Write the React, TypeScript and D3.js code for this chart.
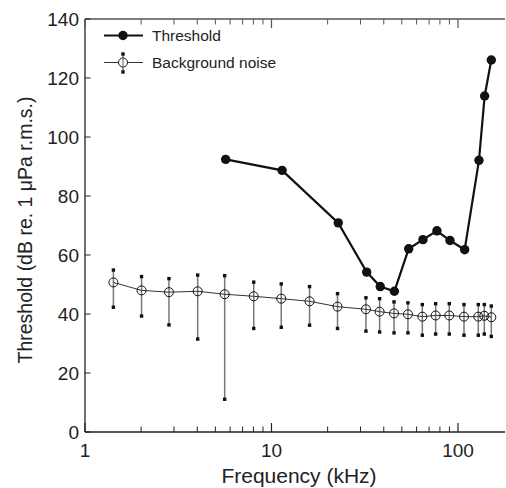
import React from "react";
import * as d3 from "d3";

const thresholdFreq = [5.68, 11.4, 22.8, 32.4, 38.3, 45.6, 54.4, 64.9, 77.1, 90.6, 108.6, 129.6, 139, 150.9];
const thresholdDb = [92.4, 88.7, 70.9, 54.2, 49.3, 47.7, 62.1, 65.2, 68.2, 64.9, 61.8, 92.1, 113.9, 126.1];

const noiseFreq = [1.42, 2.01, 2.82, 4.02, 5.61, 8.03, 11.28, 16.0, 22.6, 32.1, 38.0, 45.4, 53.9, 64.4, 75.9, 89.8, 107.7, 128.5, 138.4, 150.9];
const noiseDb = [50.7, 48.0, 47.4, 47.7, 46.7, 46.0, 45.2, 44.3, 42.5, 41.6, 40.8, 40.2, 39.9, 39.1, 39.5, 39.5, 39.1, 39.1, 39.4, 38.9];
const noiseHigh = [54.9, 52.7, 52.0, 53.2, 53.0, 50.8, 50.2, 49.3, 46.9, 45.5, 45.2, 44.1, 43.8, 43.2, 43.5, 43.5, 43.2, 43.2, 43.2, 42.7];
const noiseLow = [42.3, 39.3, 36.3, 31.5, 11.1, 35.1, 35.5, 36.2, 35.1, 34.2, 33.9, 33.6, 33.6, 32.8, 33.2, 33.2, 32.8, 32.8, 33.2, 32.4];

const xTickLabels = [1, 10, 100];
const yTickValues = [0, 20, 40, 60, 80, 100, 120, 140];
const legendLabels = ["Threshold", "Background noise"];

const W = 506;
const H = 488;
const L = 85, R = 505, T = 19, B = 432;
const FONT = "Liberation Sans, Arial, sans-serif";

export default function App() {
  const x = d3.scaleLog().domain([1, 178.7]).range([L, R]);
  const y = d3.scaleLinear().domain([0, 140]).range([B, T]);

  const minor: number[] = [];
  for (const dec of [1, 10, 100]) {
    for (let k = 2; k <= 9; k++) {
      const v = dec * k;
      if (x(v) <= R) minor.push(v);
    }
  }

  const thrLine = d3.line<number>().x((_, i) => x(thresholdFreq[i])).y((d) => y(d))(thresholdDb) || "";
  const noiseLine = d3.line<number>().x((_, i) => x(noiseFreq[i])).y((d) => y(d))(noiseDb) || "";

  const axisColor = "#222";
  const cap = 3.4;

  return (
    <svg width={W} height={H} style={{ position: "absolute", left: 0, top: 0, background: "#fff" }} fontFamily={FONT}>
      {/* axes frame: left, bottom, top */}
      <line x1={L} x2={L} y1={T} y2={B} stroke={axisColor} strokeWidth={1.3} />
      <line x1={L} x2={R} y1={B} y2={B} stroke={axisColor} strokeWidth={1.3} />
      <line x1={L} x2={R} y1={T} y2={T} stroke="#555" strokeWidth={1.3} />

      {/* x ticks bottom and top */}
      {minor.map((v) => (
        <g key={"mi" + v}>
          <line x1={x(v)} x2={x(v)} y1={B} y2={B - 5.5} stroke={axisColor} strokeWidth={1} />
          <line x1={x(v)} x2={x(v)} y1={T} y2={T + 5.5} stroke="#555" strokeWidth={1} />
        </g>
      ))}
      {xTickLabels.map((v) => (
        <g key={"ma" + v}>
          <line x1={x(v)} x2={x(v)} y1={B} y2={B - 9} stroke={axisColor} strokeWidth={1.2} />
          <line x1={x(v)} x2={x(v)} y1={T} y2={T + 9} stroke="#555" strokeWidth={1.2} />
          <text x={x(v)} y={B + 25} textAnchor="middle" fontSize={19} fill="#222">{v}</text>
        </g>
      ))}

      {/* y ticks */}
      {yTickValues.map((v) => (
        <g key={"y" + v}>
          <line x1={L} x2={L + 5.5} y1={y(v)} y2={y(v)} stroke={axisColor} strokeWidth={1} />
          <text x={L - 6} y={y(v) + 7} textAnchor="end" fontSize={19} fill="#222">{v}</text>
        </g>
      ))}

      {/* axis titles */}
      <text x={299} y={483} textAnchor="middle" fontSize={21} fill="#222">Frequency (kHz)</text>
      <text transform={`translate(31.5,230) rotate(-90)`} textAnchor="middle" fontSize={19.5} fill="#222">
        Threshold (dB re. 1 μPa r.m.s.)
      </text>

      {/* background noise error bars */}
      {noiseFreq.map((f, i) => (
        <g key={"eb" + i}>
          <line x1={x(f)} x2={x(f)} y1={y(noiseHigh[i])} y2={y(noiseLow[i])} stroke="#777" strokeWidth={1.5} />
          <rect x={x(f) - cap / 2} y={y(noiseHigh[i]) - cap / 2} width={cap} height={cap} fill="#111" />
          <rect x={x(f) - cap / 2} y={y(noiseLow[i]) - cap / 2} width={cap} height={cap} fill="#111" />
        </g>
      ))}
      <path d={noiseLine} fill="none" stroke="#333" strokeWidth={1} />
      {noiseFreq.map((f, i) => (
        <circle key={"nc" + i} cx={x(f)} cy={y(noiseDb[i])} r={4.5} fill="none" stroke="#111" strokeWidth={1} />
      ))}

      {/* threshold */}
      <path d={thrLine} fill="none" stroke="#111" strokeWidth={2.2} />
      {thresholdFreq.map((f, i) => (
        <circle key={"tc" + i} cx={x(f)} cy={y(thresholdDb[i])} r={4.7} fill="#111" />
      ))}

      {/* legend */}
      <line x1={104} x2={143} y1={35.5} y2={35.5} stroke="#111" strokeWidth={2.2} />
      <circle cx={123} cy={35.5} r={4.7} fill="#111" />
      <text x={152} y={41} fontSize={15.5} fill="#222">{legendLabels[0]}</text>

      <line x1={104} x2={143} y1={62.5} y2={62.5} stroke="#333" strokeWidth={1} />
      <line x1={123} x2={123} y1={54} y2={72} stroke="#777" strokeWidth={1.5} />
      <rect x={123 - cap / 2} y={54 - cap / 2} width={cap} height={cap} fill="#111" />
      <rect x={123 - cap / 2} y={72 - cap / 2} width={cap} height={cap} fill="#111" />
      <circle cx={123} cy={62.5} r={4.5} fill="#fff" stroke="#111" strokeWidth={1} />
      <line x1={123} x2={123} y1={58} y2={67} stroke="#777" strokeWidth={1.2} />
      <text x={152} y={68} fontSize={15.5} fill="#222">{legendLabels[1]}</text>
    </svg>
  );
}
